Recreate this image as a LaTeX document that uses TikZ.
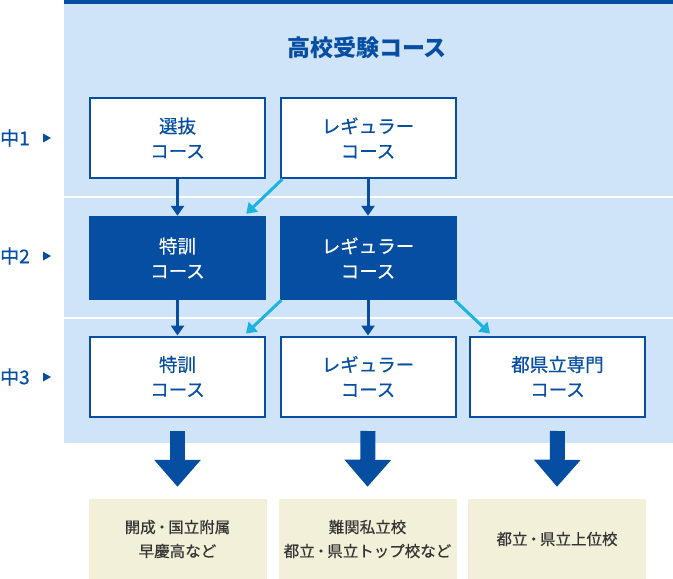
\documentclass[tikz,border=0pt]{standalone}
\usepackage{fontspec}
\setmainfont{Noto Sans CJK JP}
\newfontfamily\medfont{Noto Sans CJK JP}[FakeBold=0.5]
\usetikzlibrary{arrows.meta}
\definecolor{dblue}{HTML}{054EA2}
\definecolor{lblue}{HTML}{CFE3F9}
\definecolor{cyanb}{HTML}{1BB4E0}
\definecolor{beige}{HTML}{F2F0D8}
\definecolor{tgray}{HTML}{333333}
\newcommand{\ndot}{\kern-1.5pt・\kern-1.5pt}
\tikzset{
  wbox/.style={rectangle, draw=dblue, line width=2pt, fill=white, minimum width=175pt, minimum height=80pt, text=dblue, align=center, font=\medfont\fontsize{18.5}{25}\selectfont, inner sep=0pt},
  dbox/.style={rectangle, fill=dblue, minimum width=177pt, minimum height=84pt, text=white, align=center, font=\medfont\fontsize{18.5}{25}\selectfont, inner sep=0pt},
  gbox/.style={rectangle, fill=beige, minimum width=178pt, minimum height=80pt, text=tgray, align=center, font=\medfont\fontsize{15.5}{24}\selectfont, inner sep=0pt},
  lbl/.style={anchor=west, text=dblue, font=\medfont\fontsize{19}{22}\selectfont, inner sep=0pt},
  darr/.style={draw=dblue, line width=3pt, -{Triangle[width=13pt,length=10pt]}},
  carr/.style={draw=cyanb, line width=3pt, -{Triangle[width=13pt,length=10pt]}},
  bigarr/.style={draw=dblue, line width=15pt, -{Triangle[width=45pt,length=27pt]}},
}
\begin{document}
\begin{tikzpicture}[x=1pt,y=-1pt]
\useasboundingbox (0,0) rectangle (673,579);
\fill[lblue] (64,0) rectangle (673,443);
\fill[dblue] (64,0) rectangle (673,4);
\draw[white, line width=2pt] (64,197) -- (673,197);
\draw[white, line width=2pt] (64,318) -- (673,318);

\node[text=dblue, font=\fontsize{23}{26}\selectfont\bfseries] (title) at (367,48) {高校受験コース};

\node[lbl] (l1) at (0,138) {中1};
\node[lbl] (l2) at (0,256) {中2};
\node[lbl] (l3) at (0,377) {中3};
\foreach \y in {138,256,377} {\fill[dblue] (43,\y-4.5) -- (51,\y) -- (43,\y+4.5) -- cycle;}

\node[wbox] (a1) at (177.5,138) {選抜\\コース};
\node[wbox] (a2) at (368,138) {レギュラー\\コース};
\node[dbox] (b1) at (177.5,258) {特訓\\コース};
\node[dbox] (b2) at (368,258) {レギュラー\\コース};
\node[wbox] (c1) at (177.5,376.5) {特訓\\コース};
\node[wbox] (c2) at (368,376.5) {レギュラー\\コース};
\node[wbox] (c3) at (557.5,376.5) {都県立専門\\コース};
\node[gbox] (d1) at (177.5,539) {開成\ndot 国立附属\\早慶高など};
\node[gbox] (d2) at (367.5,539) {難関私立校\\都立\ndot 県立トップ校など};
\node[gbox] (d3) at (557,539) {都立\ndot 県立上位校};

\draw[darr] (a1.south) -- (b1.north);
\draw[darr] (a2.south) -- (b2.north);
\draw[carr] ([xshift=3pt]a2.south west) -- ([xshift=-20pt,yshift=2pt]b1.north east);
\draw[darr] (b1.south) -- (c1.north);
\draw[darr] (b2.south) -- (c2.north);
\draw[carr] ([xshift=2pt]b2.south west) -- ([xshift=-20pt,yshift=2pt]c1.north east);
\draw[carr] ([xshift=-2pt]b2.south east) -- ([xshift=21pt,yshift=2pt]c3.north west);

\draw[bigarr] ([yshift=-13.5pt]c1.south) -- ([yshift=12pt]d1.north);
\draw[bigarr] ([yshift=-13.5pt]c2.south) -- ([yshift=12pt]d2.north);
\draw[bigarr] ([yshift=-13.5pt]c3.south) -- ([yshift=12pt]d3.north);
\end{tikzpicture}
\end{document}
